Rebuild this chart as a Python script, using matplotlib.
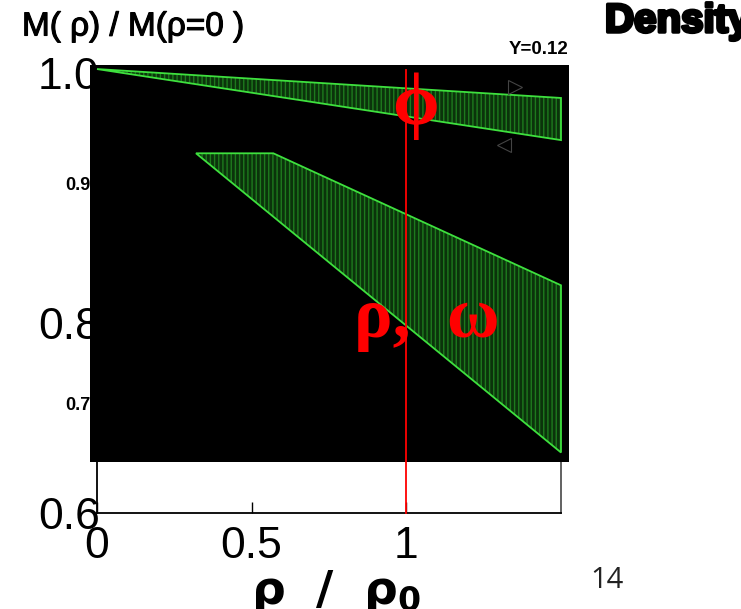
import matplotlib
matplotlib.use("Agg")
import matplotlib.pyplot as plt
import matplotlib.transforms as mtransforms
import matplotlib.patheffects as pe
from matplotlib.patches import Rectangle, Polygon

# axis ticks / labels
x_ticks = [0, 0.5, 1]
x_ticklabels = ["0", "0.5", "1"]
y_ticks = [0.6, 0.7, 0.8, 0.9, 1.0]
y_ticklabels = ["0.6", "0.7", "0.8", "0.9", "1.0"]
y_tick_big = [True, False, True, False, True]

# phi band (rho/rho0, M/M0)
phi_x = [0.0, 1.5, 1.5]
phi_y = [1.0036, 0.9773, 0.939]

# rho, omega band
rw_x = [0.32, 0.57, 1.5, 1.5]
rw_y = [0.927, 0.927, 0.807, 0.655]

# marker triangles
tri_x = [1.352, 1.316]
tri_y = [0.987, 0.935]
tri_m = [">", "<"]

# black panel extent in data units
panel_x = (-0.023, 1.526)
panel_y = (0.646, 1.007)

fig = plt.figure(figsize=(7.41, 6.09), dpi=100)
W, H = 741, 609
ax = fig.add_axes([97 / W, (H - 513) / H, (561 - 97) / W, (513 - 73) / H])
ax.set_xlim(0, 1.5)
ax.set_ylim(0.6, 1.0)

for s in ["left", "bottom", "right", "top"]:
    ax.spines[s].set_linewidth(1.3)
ax.spines["right"].set_color("#555555")

ax.set_xticks(x_ticks)
ax.set_xticklabels(x_ticklabels, fontsize=32, family="Liberation Sans")
ax.tick_params(axis="x", direction="in", length=8, width=1, pad=9)

ax.set_yticks(y_ticks)
ax.set_yticklabels(y_ticklabels, family="Liberation Sans")
ax.tick_params(axis="y", length=0, pad=-2)
for lab, big in zip(ax.get_yticklabels(), y_tick_big):
    if big:
        lab.set_fontsize(32)
    else:
        lab.set_fontsize(13)
        lab.set_fontweight("bold")
        lab.set_transform(lab.get_transform() +
                          mtransforms.ScaledTranslation(-9 / 100, 0, fig.dpi_scale_trans))
# the big 0.8 label sits lower in the original
lab08 = ax.get_yticklabels()[2]
lab08.set_transform(lab08.get_transform() +
                    mtransforms.ScaledTranslation(0, -30 / 100, fig.dpi_scale_trans))

# black panel over the axes
ax.add_patch(Rectangle((panel_x[0], panel_y[0]), panel_x[1] - panel_x[0],
                       panel_y[1] - panel_y[0], facecolor="black",
                       edgecolor="none", zorder=3, clip_on=False))

plt.rcParams["hatch.linewidth"] = 1.0
for xs, ys in [(phi_x, phi_y), (rw_x, rw_y)]:
    ax.add_patch(Polygon(list(zip(xs, ys)), closed=True, facecolor="#0b330b",
                         edgecolor="#1d7a1d", hatch="||||", linewidth=0,
                         zorder=4, clip_on=False))
    ax.add_patch(Polygon(list(zip(xs, ys)), closed=True, facecolor="none",
                         edgecolor="#3ee03e", linewidth=1.3, zorder=5,
                         clip_on=False))

for tx, ty, tm in zip(tri_x, tri_y, tri_m):
    ax.plot(tx, ty, marker=tm, markersize=10, markerfacecolor="none",
            markeredgecolor="#444444", markeredgewidth=0.8, zorder=5,
            clip_on=False)

# density = rho0 line
ax.plot([1, 1], [0.6, 1.003], color="red", linewidth=1.3, zorder=6,
        clip_on=False)

ax.text(1.03, 0.970, "ϕ", color="red", fontsize=54, fontweight="bold",
        family=["Liberation Serif", "DejaVu Serif"], ha="center", va="center",
        zorder=7)
ax.text(1.065, 0.76, "ρ,  ω", color="red", fontsize=52, fontweight="bold",
        family="Liberation Serif", ha="center", va="baseline", zorder=7)

fig.text(22 / W, 1 - 27 / H, "M( ρ) / M(ρ=0 )", fontsize=24,
         family="Liberation Sans", ha="left", va="center",
         path_effects=[pe.withStroke(linewidth=0.8, foreground="black")])
fig.text(605 / W, 1 - 21 / H, "Density", fontsize=29, fontweight="bold",
         family="Liberation Sans", ha="left", va="center",
         path_effects=[pe.withStroke(linewidth=2.5, foreground="black")])
fig.text(568 / W, 1 - 49 / H, "Y=0.12", fontsize=13.5, fontweight="bold",
         family="Liberation Sans", ha="right", va="center")
fig.text(607 / W, 1 - 581 / H, "14", fontsize=21, family="Open Sans",
         color="#222222", ha="center", va="center")

plt.rcParams["mathtext.fontset"] = "dejavusans"
plt.rcParams["mathtext.default"] = "bf"
fig.text(336 / W, 1 - 592 / H, r"$\rho\ \ /\ \ \rho_0$", fontsize=34,
         ha="center", va="center")

fig.savefig("out.png", dpi=100)
